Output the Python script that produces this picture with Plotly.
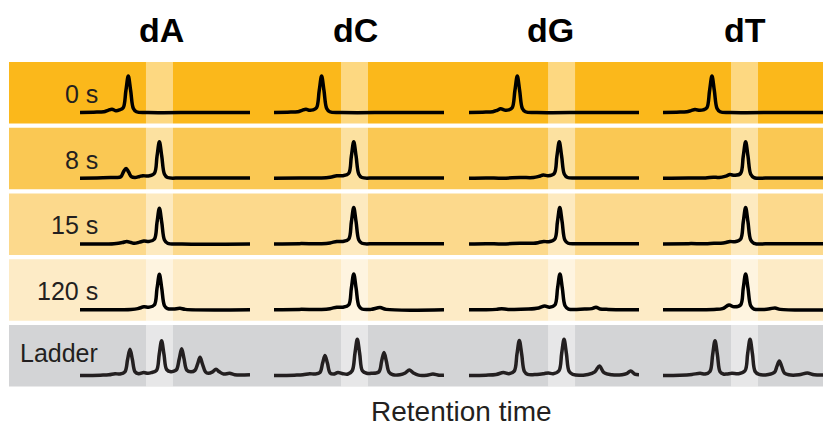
import plotly.graph_objects as go

# ---------------- data ----------------
nucleotides = ["dA", "dC", "dG", "dT"]
row_labels = ["0 s", "8 s", "15 s", "120 s", "Ladder"]
band_colors = ["#FBB81B", "#FAC853", "#FCD98C", "#FDEBC6", "#D3D4D6"]
trace_colors = ["#000000", "#000000", "#000000", "#000000", "#231F20"]

# retention-time window of the product peak (highlight), per nucleotide
highlight_lo = [38.8, 39.4, 46.5, 40.0]
highlight_hi = [54.7, 55.3, 62.4, 55.9]

# ---- dA ----
dA_0s_x = [0, 8, 14, 16.5, 18.8, 21.2, 23.2, 25.4, 27.0, 28.4, 29.8, 31.4, 33.2, 40, 70, 100]
dA_0s_y = [0, 0.01, 0.02, 0.06, 0.09, 0.05, 0.07, 0.13, 0.6, 1.0, 0.6, 0.11, 0.02, 0, 0, 0]
dA_8s_x = [0, 10, 18, 21.5, 24, 25.6, 27.1, 28.6, 30.3, 32.4, 35, 37, 40, 43.7, 45.3, 46.7, 48.1, 49.7, 51.5, 60, 100]
dA_8s_y = [0, 0.01, 0.02, 0.02, 0.04, 0.18, 0.27, 0.17, 0.04, 0.02, 0.05, 0.07, 0.06, 0.13, 0.6, 1.0, 0.6, 0.11, 0.02, 0.01, 0.01]
dA_15s_x = [0, 10, 20, 25, 27.5, 30, 32, 35, 37.6, 40.5, 43.7, 45.3, 46.7, 48.1, 49.7, 51.5, 60, 100]
dA_15s_y = [0, 0, 0.01, 0.04, 0.07, 0.04, 0.02, 0.05, 0.08, 0.07, 0.13, 0.59, 0.98, 0.59, 0.11, 0.02, 0, 0]
dA_120s_x = [0, 15, 30, 34, 37.6, 40.5, 43.7, 45.3, 46.7, 48.1, 49.7, 51.5, 55, 58.8, 62, 100]
dA_120s_y = [0, 0, 0.01, 0.03, 0.08, 0.07, 0.13, 0.58, 0.97, 0.58, 0.11, 0.03, 0.02, 0.04, 0.01, 0]
dA_lad_x = [0, 12, 17, 20.6, 23.5, 26.4, 28.0, 29.4, 30.8, 32.4, 34.5, 37.5, 40, 42, 45.0, 46.6, 48, 49.4, 51.0,
            53.5, 55.3, 56.8, 58.4, 59.8, 61.2, 62.8, 65.2, 67.6, 69.2, 70.6, 72.0, 73.8, 75.5, 78, 80, 82,
            84.5, 88, 91, 100]
dA_lad_y = [0, 0.01, 0.02, 0.05, 0.04, 0.1, 0.44, 0.72, 0.44, 0.1, 0.05, 0.08, 0.06, 0.08, 0.14, 0.58, 0.95, 0.58, 0.16,
            0.1, 0.12, 0.16, 0.46, 0.73, 0.46, 0.15, 0.1, 0.14, 0.32, 0.5, 0.32, 0.1, 0.06, 0.1, 0.17, 0.1,
            0.04, 0.06, 0.02, 0.02]

# ---- dC ----
dC_0s_x = [0, 8, 14, 16.5, 18.8, 21, 22.8, 25.0, 26.6, 28.0, 29.4, 31.0, 32.8, 40, 70, 100]
dC_0s_y = [0, 0.01, 0.02, 0.06, 0.09, 0.06, 0.07, 0.13, 0.6, 1.0, 0.6, 0.11, 0.02, 0, 0, 0]
dC_8s_x = [0, 15, 28, 33, 37, 40.5, 43.9, 45.5, 46.9, 48.3, 49.9, 51.7, 60, 100]
dC_8s_y = [0, 0.01, 0.01, 0.03, 0.07, 0.07, 0.13, 0.6, 1.0, 0.6, 0.11, 0.02, 0.01, 0.01]
dC_15s_x = [0, 15, 28, 33, 37, 40.5, 43.9, 45.5, 46.9, 48.3, 49.9, 51.7, 60, 100]
dC_15s_y = [0, 0.01, 0.01, 0.03, 0.07, 0.07, 0.13, 0.6, 1.0, 0.6, 0.11, 0.02, 0.01, 0.01]
dC_120s_x = [0, 15, 28, 33, 37, 40.5, 43.9, 45.5, 46.9, 48.3, 49.9, 51.7, 57, 62.4, 66, 100]
dC_120s_y = [0, 0.01, 0.01, 0.03, 0.07, 0.07, 0.13, 0.59, 0.98, 0.59, 0.11, 0.02, 0.01, 0.06, 0.01, 0]
dC_lad_x = [0, 12, 17, 21, 24, 27.0, 28.6, 30, 31.4, 33.0, 35, 37.6, 40.5, 43.5, 46.0, 47.6, 49, 50.4, 52.0,
            54.5, 57, 61.7, 63.3, 64.7, 66.1, 67.7, 70, 74, 77.2, 79.6, 82, 85, 90, 93.5, 97, 100]
dC_lad_y = [0, 0.01, 0.02, 0.05, 0.04, 0.08, 0.34, 0.55, 0.34, 0.07, 0.04, 0.08, 0.05, 0.04, 0.13, 0.6, 0.99, 0.6, 0.13,
            0.06, 0.06, 0.1, 0.39, 0.63, 0.39, 0.09, 0.02, 0.02, 0.07, 0.15, 0.07, 0.01, 0.01, 0.04, 0.01, 0.01]

# ---- dG ----
dG_0s_x = [0, 8, 14, 16.5, 18.6, 21.5, 23.3, 25.4, 27.0, 28.4, 29.8, 31.4, 33.2, 40, 70, 100]
dG_0s_y = [0, 0.01, 0.02, 0.06, 0.1, 0.06, 0.07, 0.13, 0.6, 1.0, 0.6, 0.11, 0.02, 0, 0, 0]
dG_8s_x = [0, 10, 20, 30, 38, 41, 43.7, 46.5, 50.1, 51.7, 53.1, 54.5, 56.1, 58, 65, 100]
dG_8s_y = [0, 0.01, 0, 0.02, 0.02, 0.05, 0.09, 0.07, 0.13, 0.6, 1.0, 0.6, 0.11, 0.02, 0.01, 0.01]
dG_15s_x = [0, 10, 20, 30, 38, 41, 44.0, 46.8, 50.4, 52.0, 53.4, 54.8, 56.4, 58.3, 65, 100]
dG_15s_y = [0, 0.01, 0, 0.02, 0.02, 0.04, 0.07, 0.06, 0.13, 0.6, 1.0, 0.6, 0.11, 0.02, 0.01, 0.01]
dG_120s_x = [0, 10, 16, 19.2, 23, 35, 41, 44.5, 47.3, 50.5, 52.1, 53.5, 54.9, 56.5, 58.5, 68, 72.3, 74.7, 77.1, 82, 100]
dG_120s_y = [0, 0, 0.01, 0.03, 0.01, 0.02, 0.05, 0.1, 0.07, 0.13, 0.59, 0.98, 0.59, 0.11, 0.02, 0.02, 0.03, 0.07, 0.02, 0.01, 0]
dG_lad_x = [0, 10, 16, 20.2, 23.5, 26.6, 28.2, 29.6, 31.0, 32.6, 34.5, 40, 44, 46.7, 49.5, 52.9, 54.5, 55.9, 57.3, 58.9,
            61, 70, 74.0, 76.7, 79.4, 84, 90, 92.7, 95.1, 97.5, 100]
dG_lad_y = [0, 0.01, 0.03, 0.08, 0.05, 0.12, 0.58, 0.96, 0.58, 0.11, 0.03, 0.03, 0.05, 0.07, 0.05, 0.13, 0.6, 0.99, 0.6, 0.11,
            0.03, 0.03, 0.1, 0.26, 0.08, 0.02, 0.02, 0.05, 0.12, 0.04, 0.02]

# ---- dT ----
dT_0s_x = [0, 8, 14, 16.5, 18.8, 21.6, 23.6, 25.8, 27.4, 28.8, 30.2, 31.8, 33.6, 40, 70, 100]
dT_0s_y = [0, 0.01, 0.02, 0.05, 0.08, 0.06, 0.07, 0.13, 0.6, 1.0, 0.6, 0.11, 0.02, 0, 0, 0]
dT_8s_x = [0, 15, 25, 29.6, 33, 37, 39.4, 42.2, 45.6, 47.2, 48.6, 50.0, 51.6, 53.5, 65, 100]
dT_8s_y = [0, 0.01, 0.01, 0.03, 0.02, 0.06, 0.1, 0.08, 0.13, 0.6, 1.0, 0.6, 0.11, 0.02, 0.01, 0.01]
dT_15s_x = [0, 15, 25, 30, 34, 37, 39.4, 42.2, 45.6, 47.2, 48.6, 50.0, 51.6, 53.5, 65, 100]
dT_15s_y = [0, 0.01, 0.01, 0.02, 0.02, 0.04, 0.07, 0.06, 0.13, 0.6, 1.0, 0.6, 0.11, 0.02, 0.01, 0.01]
dT_120s_x = [0, 15, 30, 35, 38.8, 41.8, 45.6, 47.2, 48.6, 50.0, 51.6, 53.5, 62, 65.9, 69, 100]
dT_120s_y = [0, 0, 0.01, 0.03, 0.13, 0.08, 0.13, 0.59, 0.98, 0.59, 0.11, 0.02, 0.02, 0.05, 0.01, 0]
dT_lad_x = [0, 10, 17, 21.8, 24.8, 27.6, 29.2, 30.6, 32.0, 33.6, 35.5, 37.5, 40.5, 44.5, 48.2, 49.8, 51.2, 52.6, 54.2,
            56.5, 62, 65.6, 67.0, 68.4, 69.8, 71.4, 74, 80, 84.9, 89, 100]
dT_lad_y = [0, 0.01, 0.03, 0.06, 0.04, 0.11, 0.57, 0.95, 0.57, 0.1, 0.04, 0.04, 0.06, 0.05, 0.13, 0.6, 0.99, 0.6, 0.11,
            0.03, 0.03, 0.09, 0.25, 0.4, 0.25, 0.07, 0.02, 0.02, 0.07, 0.02, 0.02]

traces_xy = {
    "dA": [(dA_0s_x, dA_0s_y), (dA_8s_x, dA_8s_y), (dA_15s_x, dA_15s_y), (dA_120s_x, dA_120s_y), (dA_lad_x, dA_lad_y)],
    "dC": [(dC_0s_x, dC_0s_y), (dC_8s_x, dC_8s_y), (dC_15s_x, dC_15s_y), (dC_120s_x, dC_120s_y), (dC_lad_x, dC_lad_y)],
    "dG": [(dG_0s_x, dG_0s_y), (dG_8s_x, dG_8s_y), (dG_15s_x, dG_15s_y), (dG_120s_x, dG_120s_y), (dG_lad_x, dG_lad_y)],
    "dT": [(dT_0s_x, dT_0s_y), (dT_8s_x, dT_8s_y), (dT_15s_x, dT_15s_y), (dT_120s_x, dT_120s_y), (dT_lad_x, dT_lad_y)],
}

# ---------------- layout geometry (screen pixels) ----------------
W, H = 831, 430
OFF = 8              # page body margin: figure origin sits at (8, 8) on screen
col_left = [80, 274, 469, 663]
col_w = 170
band_left = 9
band_top = [62, 127.75, 193.5, 259.25, 325]
band_h = 61.5
base_off = 11.0      # baseline distance above band bottom
unit_px = 36.5       # pixel height of a unit peak
FONT = "Liberation Sans, Arial, Helvetica, sans-serif"


def px(x):
    return (x - OFF) / W


def py(y):
    return 1 - (y - OFF) / H


fig = go.Figure()
layout = dict(
    width=W, height=H, margin=dict(l=0, r=0, t=0, b=0),
    paper_bgcolor="white", plot_bgcolor="rgba(0,0,0,0)",
    showlegend=False, hovermode=False,
)

shapes = []
annotations = []

# bands
for r in range(5):
    shapes.append(dict(type="rect", xref="paper", yref="paper", layer="below",
                       x0=px(band_left), x1=1, y0=py(band_top[r] + band_h), y1=py(band_top[r]),
                       fillcolor=band_colors[r], line=dict(width=0)))

for r in range(5):
    for c, nt in enumerate(nucleotides):
        n = r * 4 + c + 1
        layout[f"xaxis{n}"] = dict(domain=[px(col_left[c]), px(col_left[c] + col_w)], range=[0, 100],
                                   visible=False, anchor=f"y{n}", fixedrange=True)
        layout[f"yaxis{n}"] = dict(domain=[py(band_top[r] + band_h), py(band_top[r])],
                                   range=[-base_off / unit_px, (band_h - base_off) / unit_px],
                                   visible=False, anchor=f"x{n}", fixedrange=True)
        xs, ys = traces_xy[nt][r]
        fig.add_trace(go.Scatter(
            x=xs, y=ys, mode="lines", xaxis=f"x{n}", yaxis=f"y{n}",
            line=dict(color=trace_colors[r], width=3.5, shape="spline", smoothing=1),
            hoverinfo="skip"))

# highlight windows (white translucent overlay across all rows)
for c in range(4):
    shapes.append(dict(type="rect", xref=f"x{c + 1}", yref="paper", layer="below",
                       x0=highlight_lo[c], x1=highlight_hi[c],
                       y0=py(band_top[4] + band_h), y1=py(band_top[0]),
                       fillcolor="rgba(255,255,255,0.45)", line=dict(width=0)))

# column titles
for c, nt in enumerate(nucleotides):
    annotations.append(dict(text=nt, xref=f"x{c + 1}", yref="paper", x=48, y=py(30),
                            xanchor="center", yanchor="middle", showarrow=False,
                            font=dict(family=FONT, size=34, color="#000000", weight="bold")))

# row labels
for r, lab in enumerate(row_labels):
    yc = band_top[r] + band_h / 2 + (1 if r < 4 else -3)
    annotations.append(dict(text=lab, xref="paper", yref="paper", x=px(100), y=py(yc),
                            xanchor="right", yanchor="middle", showarrow=False,
                            font=dict(family=FONT, size=25, color="#231F20")))

# x-axis title (kept fully inside the 430-px window)
annotations.append(dict(text="Retention time", xref="paper", yref="paper", x=px(461), y=py(429),
                        xanchor="center", yanchor="bottom", showarrow=False,
                        font=dict(family=FONT, size=28, color="#231F20")))

layout["shapes"] = shapes
layout["annotations"] = annotations
fig.update_layout(**layout)
fig.write_html("out.html")
